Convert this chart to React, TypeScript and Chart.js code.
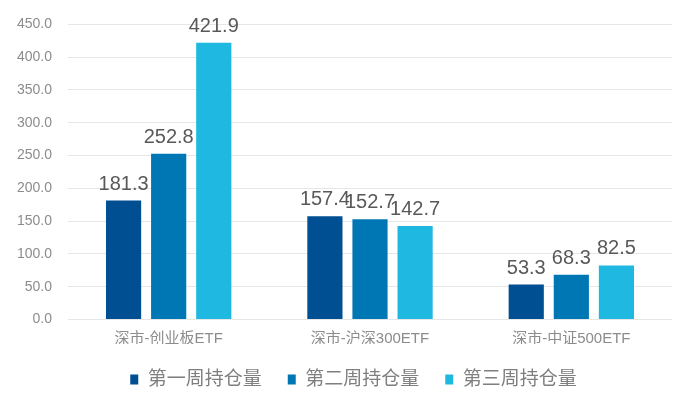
import React, { useEffect, useRef } from "react";
import { Chart, registerables } from "chart.js";

Chart.register(...registerables);

const categories = ["深市-创业板ETF", "深市-沪深300ETF", "深市-中证500ETF"];
const seriesNames = ["第一周持仓量", "第二周持仓量", "第三周持仓量"];
const week1 = [181.3, 157.4, 53.3];
const week2 = [252.8, 152.7, 68.3];
const week3 = [421.9, 142.7, 82.5];
const colors = ["#004F92", "#0077B5", "#1FB8E0"];

const FONT = '"Liberation Sans", Arial, "Noto Sans CJK SC", sans-serif';

const dataLabelPlugin = {
  id: "dataLabels",
  afterDatasetsDraw(chart: any) {
    const ctx = chart.ctx;
    ctx.save();
    ctx.font = `20px ${FONT}`;
    ctx.fillStyle = "#595959";
    ctx.textAlign = "center";
    ctx.textBaseline = "alphabetic";
    chart.data.datasets.forEach((ds: any, i: number) => {
      const meta = chart.getDatasetMeta(i);
      meta.data.forEach((el: any, j: number) => {
        ctx.fillText(Number(ds.data[j]).toFixed(1), el.x, el.y - 11);
      });
    });
    ctx.restore();
  },
};

export default function App() {
  const ref = useRef<HTMLCanvasElement>(null);
  useEffect(() => {
    if (!ref.current) return;
    const chart = new Chart(ref.current, {
      type: "bar",
      data: {
        labels: categories,
        datasets: [week1, week2, week3].map((d, i) => ({
          label: seriesNames[i],
          data: d,
          backgroundColor: colors[i],
          categoryPercentage: 0.672,
          barPercentage: 0.78,
        })),
      },
      options: {
        animation: false,
        responsive: false,
        maintainAspectRatio: false,
        layout: { padding: { left: 7, right: 0, top: 23, bottom: 11 } },
        plugins: {
          tooltip: { enabled: false },
          legend: {
            position: "bottom",
            labels: {
              boxWidth: 8,
              boxHeight: 10,
              padding: 26,
              color: "#7F7F7F",
              font: { size: 19, family: FONT },
            },
          },
        },
        scales: {
          x: {
            grid: { display: false, drawTicks: false },
            border: { display: false },
            ticks: {
              color: "#8C8C8C",
              font: { size: 15, family: FONT },
              padding: 10,
            },
            afterFit(scale: any) {
              scale.height = 24.5;
            },
          },
          y: {
            min: 0,
            max: 450,
            grid: { color: "#E6E6E6", lineWidth: 1, drawTicks: false },
            border: { display: false },
            ticks: {
              stepSize: 50,
              color: "#8C8C8C",
              font: { size: 14, family: FONT },
              padding: 16,
              callback: (v: any) => Number(v).toFixed(1),
            },
            afterFit(scale: any) {
              scale.width = 61;
            },
          },
          yRight: {
            position: "right",
            min: 0,
            max: 450,
            grid: { display: false, drawTicks: false },
            border: { display: false },
            ticks: { display: false },
            afterFit(scale: any) {
              scale.width = 28;
            },
          },
        },
      },
      plugins: [dataLabelPlugin],
    });
    return () => chart.destroy();
  }, []);
  return (
    <div style={{ position: "absolute", left: 0, top: 0, width: 700, height: 410, background: "#fff" }}>
      <canvas ref={ref} width={700} height={410} style={{ width: 700, height: 410 }} />
    </div>
  );
}
